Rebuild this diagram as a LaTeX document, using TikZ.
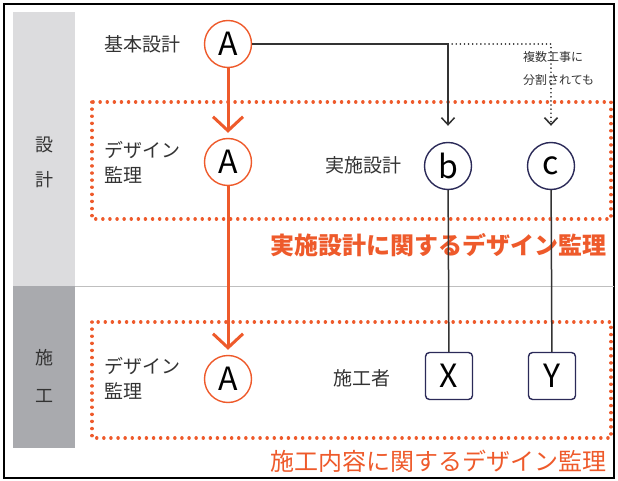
\documentclass[tikz,border=0pt]{standalone}
\usepackage{fontspec}
\setmainfont{Noto Sans CJK JP}
\newfontfamily\cjk{Noto Sans CJK JP}
\usetikzlibrary{arrows.meta}
\definecolor{supOrange}{HTML}{EE5A2B}
\definecolor{navyLine}{HTML}{2B2A58}
\definecolor{textGray}{HTML}{333333}
\definecolor{barLight}{HTML}{DCDCDE}
\definecolor{barDark}{HTML}{A9AAAE}
\begin{document}
\begin{tikzpicture}
[x=1pt,y=-1pt,
  circOrange/.style={shape=circle,draw=supOrange,line width=1.4pt,minimum size=47pt,inner sep=0pt,text=black,font=\cjk\fontsize{32}{32}\selectfont},
  circNavy/.style={shape=circle,draw=navyLine,line width=1.4pt,minimum size=47pt,inner sep=0pt,text=black,font=\cjk\fontsize{32}{32}\selectfont},
  boxNavy/.style={shape=rectangle,rounded corners=4pt,draw=navyLine,line width=1.4pt,minimum size=47pt,inner sep=0pt,text=black,font=\cjk\fontsize{32}{32}\selectfont},
  labelDecorate/.style={font=\fontsize{19}{25}\selectfont,text=textGray,align=left,inner sep=0pt},
  barDecorate/.style={font=\fontsize{18}{18}\selectfont,text=textGray},
  orangeArrow/.style={-{Straight Barb[length=14pt,width=30pt]},line width=3pt,draw=supOrange,shorten >=5pt},
  lineDecorate/.style={-{Straight Barb[length=7pt,width=13pt]},line width=1.5pt,draw=textGray,shorten >=16pt},
  dotLine/.style={-{Straight Barb[length=7pt,width=13pt]},line width=1.6pt,draw=textGray,line cap=round,dash pattern=on 0.1pt off 4pt,shorten >=16pt},
  dotBox/.style={draw=supOrange,line width=3.4pt,line cap=round,dash pattern=on 0.1pt off 7pt}]
\useasboundingbox (0,0) rectangle (618,481);
%% frame and left bar
\draw[line width=1.6pt] (4,4) rectangle (614,478);
\fill[barLight] (13,12) rectangle (75,286);
\fill[barDark] (13,286) rectangle (75,448);
\draw[gray!50,line width=0.8pt] (75,286) -- (614,286);
\foreach \nodename/\y/\chr in {s1/145/設, s2/180/計, k1/358/施, k2/396/工}
{
  \node (\nodename) at (44,\y) [barDecorate] {\chr};
}
%% dotted regions
\draw[dotBox] (92,102) rectangle (611,219);
\draw[dotBox] (92,322) rectangle (611,438);
\node (jissiT) [anchor=east,text=supOrange,font=\cjk\bfseries\fontsize{24}{24}\selectfont] at (610,245) {実施設計に関するデザイン監理};
\node (sekoT) [anchor=east,text=supOrange,font=\fontsize{24}{24}\selectfont] at (610,461) {施工内容に関するデザイン監理};
%% nodes or vertices
\foreach \nodename/\x/\y/\style/\letter in {
  A1/228/44/circOrange/A, A2/228/162/circOrange/A, A3/228/379/circOrange/A,
  b/448/166/circNavy/b, c/551/166/circNavy/c,
  X/449/376/boxNavy/X, Y/552/376/boxNavy/Y}
{
  \node (\nodename) at (\x,\y) [\style] {\letter};
}
\node (kihon) [labelDecorate,anchor=west] at (104,44) {基本設計};
\node (kanri1) [labelDecorate,anchor=west] at (104,162) {デザイン\\監理};
\node (kanri2) [labelDecorate,anchor=west] at (104,378) {デザイン\\監理};
\node (jissi) [labelDecorate] at (363,165) {実施設計};
\node (seko) [labelDecorate] at (362,378) {施工者};
\node (bunkatsu) [anchor=west,align=left,inner sep=0pt,text=textGray,font=\fontsize{12}{23}\selectfont] at (523,68) {複数工事に\\分割されても};
%% edges or lines
\coordinate (turn) at (b.north |- A1.east);
\draw[orangeArrow] (A1) -- (A2);
\draw[orangeArrow] (A2) -- (A3);
\draw[lineDecorate] (A1.east) -| (b.north);
\draw[dotLine] (turn) -| (c.north);
\path
\foreach \startnode/\endnode in {b/X, c/Y}
{
  (\startnode) edge[draw=textGray,line width=1.5pt] (\endnode)
};
\end{tikzpicture}
\end{document}
